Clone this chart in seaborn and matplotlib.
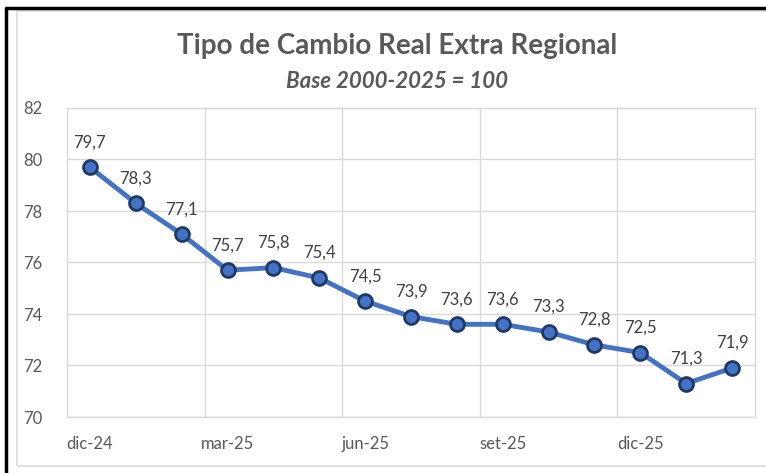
import numpy as np
import pandas as pd
import matplotlib
matplotlib.use("Agg")
import matplotlib.pyplot as plt
import seaborn as sns
from matplotlib.lines import Line2D
from matplotlib.patches import Rectangle

# datos
meses = ["dic-24", "ene-25", "feb-25", "mar-25", "abr-25", "may-25", "jun-25",
         "jul-25", "ago-25", "set-25", "oct-25", "nov-25", "dic-25", "ene-26", "feb-26"]
tcr = [79.7, 78.3, 77.1, 75.7, 75.8, 75.4, 74.5, 73.9, 73.6, 73.6, 73.3, 72.8, 72.5, 71.3, 71.9]
etiquetas_x = ["dic-24", "mar-25", "jun-25", "set-25", "dic-25"]

df = pd.DataFrame({"mes": meses, "tcr": tcr, "i": range(len(meses))})

sns.set_style("white")
plt.rcParams['font.family'] = ['Lato', 'DejaVu Sans']

fig = plt.figure(figsize=(7.66, 4.73), dpi=100)
ax = fig.add_axes([67/766, 1 - 417/473, (755-67)/766, (417-108)/473])

gris = "#D9D9D9"
texto = "#595959"

sns.lineplot(data=df, x="i", y="tcr", ax=ax, color="#4472C4", linewidth=3.5,
             marker="o", markersize=10, markerfacecolor="#4472C4",
             markeredgecolor="#1F3864", markeredgewidth=2, zorder=3)

ax.set_xlim(-0.5, len(meses) - 0.5)
ax.set_ylim(70, 82)
ax.set_yticks(np.arange(70, 83, 2))
ax.set_xticks([meses.index(m) for m in etiquetas_x])
ax.set_xticklabels(etiquetas_x)

# grilla vertical entre categorias cada 3 meses
for xv in [2.5, 5.5, 8.5, 11.5]:
    ax.axvline(xv, color=gris, linewidth=1, zorder=0)
ax.yaxis.grid(True, color=gris, linewidth=1)
ax.set_axisbelow(True)
for s in ax.spines.values():
    s.set_color(gris)
    s.set_linewidth(1)

ax.tick_params(axis="both", length=0, labelsize=12, labelcolor=texto)
ax.tick_params(axis="y", pad=18)
ax.tick_params(axis="x", pad=14)
ax.set_xlabel("")
ax.set_ylabel("")

for i, v in enumerate(tcr):
    ax.annotate(f"{v:.1f}".replace(".", ","), (i, v), xytext=(0, 18),
                textcoords="offset points", ha="center", va="center",
                fontsize=12, color="#404040")

fig.text(0.518, 1 - 46/473, "Tipo de Cambio Real Extra Regional", ha="center", va="center",
         fontsize=20, fontweight="bold", color=texto)
fig.text(0.518, 1 - 82/473, "Base 2000-2025 = 100", ha="center", va="center",
         fontsize=16, fontweight="bold", style="italic", color=texto)

# bordes
fig.add_artist(Rectangle((17/766, 1 - 466/473), 1, (466-11)/473, transform=fig.transFigure,
                         fill=False, edgecolor=gris, linewidth=1.2))
fig.add_artist(Line2D([6/766, 6/766], [0, 1 - 8/473], transform=fig.transFigure,
                      color="black", linewidth=2.5))
fig.add_artist(Line2D([6/766, 1], [1 - 8/473, 1 - 8/473], transform=fig.transFigure,
                      color="black", linewidth=2.5))

fig.savefig("out.png", dpi=100)
